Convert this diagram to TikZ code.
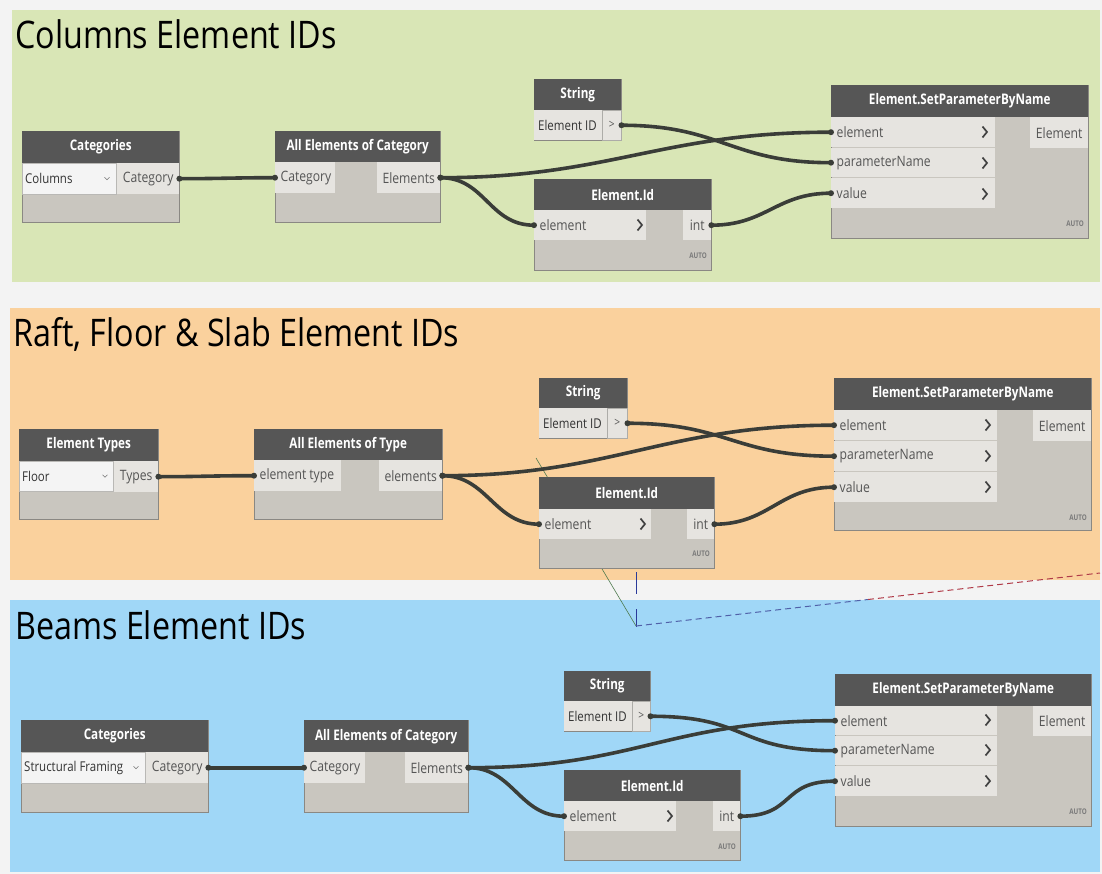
\documentclass[tikz,border=0pt]{standalone}
\usepackage{fontspec}
\newfontfamily\tfont{Open Sans}[FakeStretch=0.85]
\newfontfamily\hfont{Open Sans}[FakeStretch=0.8]
\definecolor{bggray}{HTML}{F3F3F3}
\definecolor{pgreen}{HTML}{D9E6B6}
\definecolor{porange}{HTML}{FAD19D}
\definecolor{pblue}{HTML}{A0D7F7}
\definecolor{headgray}{HTML}{565656}
\definecolor{bodygray}{HTML}{C9C6BF}
\definecolor{cellgray}{HTML}{E6E4E0}
\definecolor{ddgray}{HTML}{F4F4F4}
\definecolor{edgegray}{HTML}{8A8883}
\definecolor{wiregray}{HTML}{3A3D38}
\definecolor{txtgray}{HTML}{555555}
\definecolor{autogray}{HTML}{7A7A7A}
\definecolor{strayg}{HTML}{4E7A4E}
\definecolor{strayb}{HTML}{2A3A9A}
\definecolor{strayr}{HTML}{B03A48}
\definecolor{straypb}{HTML}{5060A8}
\tikzset{
  body/.style={draw=edgegray, line width=0.8pt, fill=bodygray, anchor=north west, inner sep=0pt},
  head/.style={fill=headgray, anchor=north west, inner sep=0pt, text=white, font=\hfont\bfseries\fontsize{14.6}{16}\selectfont},
  cell/.style={fill=cellgray, anchor=north west, inner sep=0pt, text=txtgray, font=\tfont\fontsize{14.3}{16}\selectfont},
  celltext/.style={inner sep=0pt, text=txtgray, font=\tfont\fontsize{14.3}{16}\selectfont},
  strtext/.style={inner sep=0pt, text=black!80, font=\tfont\fontsize{13.5}{16}\selectfont},
  ddst/.style={fill=ddgray, draw=edgegray!60, line width=0.5pt, anchor=north west, inner sep=0pt},
  ddtext/.style={inner sep=0pt, text=black!80, font=\tfont\fontsize{13.5}{16}\selectfont},
  gcell/.style={fill=cellgray, draw=edgegray!70, line width=0.5pt, anchor=north west, inner sep=0pt, text=txtgray, font=\tfont\fontsize{12}{14}\selectfont},
  autost/.style={inner sep=0pt, anchor=east, text=autogray, font=\hfont\bfseries\fontsize{7.8}{9}\selectfont},
  titlest/.style={inner sep=0pt, anchor=base west, text=black, font=\tfont\fontsize{38}{42}\selectfont},
  chevst/.style={draw=black!75, line width=1.7pt},
  vst/.style={draw=black!55, line width=0.6pt},
  wire/.style={draw=wiregray, line width=3.6pt},
}
\newcommand\dynnode[7]{%
  \node[body, minimum width=#4pt, minimum height=#5pt] (#1) at (#2,#3) {};
  \node[head, minimum width=#4pt, minimum height=#6pt] (#1h) at (#2,#3) {#7};
}
\newcommand\incell[6]{%
  \node[cell, minimum width=#4pt, minimum height=#5pt] (#1) at (#2,#3) {};
  \node[celltext, anchor=west] (#1t) at ([xshift=5.5pt]#1.west) {#6};
}
\newcommand\strcell[6]{%
  \node[cell, minimum width=#4pt, minimum height=#5pt] (#1) at (#2,#3) {};
  \node[strtext, anchor=west] (#1t) at ([xshift=4pt]#1.west) {#6};
}
\newcommand\outcell[6]{%
  \node[cell, minimum width=#4pt, minimum height=#5pt] (#1) at (#2,#3) {#6};
}
\newcommand\ddcell[7]{%
  \node[ddst, minimum width=#4pt, minimum height=#5pt] (#1) at (#2,#3) {};
  \node[ddtext, anchor=west] (#1t) at ([xshift=3pt]#1.west) {#6};
  \draw[vst] ([xshift=#7pt-2.5pt, yshift=1.5pt]#1.west) -- ([xshift=#7pt, yshift=-1pt]#1.west) -- ([xshift=#7pt+2.5pt, yshift=1.5pt]#1.west);
}
\newcommand\chev[2]{\draw[chevst] (#1-2.5,#2-5.5) -- (#1+2,#2) -- (#1-2.5,#2+5.5);}
\newcommand\wire[3]{%
  \draw[wire] (#1) .. controls +(#3,0) and +(-#3,0) .. (#2);
  \fill[wiregray] (#1) circle (3);
  \fill[wiregray] (#2) circle (3);
}
\begin{document}
\begin{tikzpicture}[x=1pt, y={(0pt,-1pt)}]
\useasboundingbox (0,0) rectangle (1102,874);
\fill[bggray] (0,0) rectangle (1102,874);
% panels
\fill[pgreen] (12,10) rectangle (1100,282);
\fill[porange] (10,308) rectangle (1100,580);
\fill[pblue] (10,600) rectangle (1100,872);
% titles
\node[titlest] (t1) at (15,49) {Columns Element IDs};
\node[titlest] (t2) at (13,346) {Raft, Floor \& Slab Element IDs};
\node[titlest] (t3) at (15,639) {Beams Element IDs};
% stray lines
\draw[strayg, line width=0.6pt] (536,458) -- (636,626);
\draw[strayb, line width=1pt] (636,572) -- (636,594);
\draw[strayb, line width=1pt] (636,609) -- (636,627);
\draw[straypb, line width=1pt, dash pattern=on 6pt off 4pt] (636,626) -- (868,599.5);
\draw[strayr, line width=1pt, dash pattern=on 6pt off 4pt] (868,599.5) -- (1100,573);

% ===== Group 1 =====
\dynnode{cat1}{22}{131}{157}{91}{32}{Categories}
\ddcell{cat1d}{22}{163}{94}{31}{Columns}{85}
\outcell{cat1o}{117}{163}{62}{31}{Category}
\dynnode{aec1}{275}{131}{165}{91}{31}{All Elements of Category}
\incell{aec1i}{275}{162}{60}{31}{Category}
\outcell{aec1o}{377}{162}{63}{31}{Elements}
\dynnode{str1}{534}{79}{87}{61}{31}{String}
\strcell{str1a}{534}{110}{68}{30}{Element ID}
\node[gcell, minimum width=19pt, minimum height=30pt] (str1g) at (602,110) {>};
\dynnode{eid1}{534}{179}{177}{91}{31}{Element.Id}
\incell{eid1i}{534}{210}{112}{30}{element}
\chev{640}{225}
\outcell{eid1o}{683}{210}{28}{30}{int}
\node[autost] (eid1auto) at (707,256) {AUTO};
\dynnode{sp1}{831}{85}{257}{153}{32}{Element.SetParameterByName}
\incell{sp1e}{831}{117}{164}{30}{element}
\incell{sp1p}{831}{148}{164}{29}{parameterName}
\incell{sp1v}{831}{178}{164}{30}{value}
\chev{985}{132}\chev{985}{163}\chev{985}{194}
\outcell{sp1o}{1030}{117}{58}{31}{Element}
\node[autost] (sp1auto) at (1084,224) {AUTO};
\wire{cat1o.east}{aec1i.west}{40}
\wire{aec1o.east}{sp1e.west}{170}
\wire{aec1o.east}{eid1i.west}{45}
\wire{str1g.east}{sp1p.west}{100}
\wire{eid1o.east}{sp1v.west}{55}

% ===== Group 2 =====
\dynnode{et2}{19}{429}{139}{90}{32}{Element Types}
\ddcell{et2d}{19}{461}{94}{30}{Floor}{86}
\outcell{et2o}{114}{461}{44}{31}{Types}
\dynnode{aet2}{254}{429}{188}{90}{31}{All Elements of Type}
\incell{aet2i}{254}{460}{87}{31}{element type}
\outcell{aet2o}{379}{460}{63}{31}{elements}
\dynnode{str2}{539}{378}{88}{60}{30}{String}
\strcell{str2a}{539}{408}{68}{30}{Element ID}
\node[gcell, minimum width=20pt, minimum height=30pt] (str2g) at (607,408) {>};
\dynnode{eid2}{539}{477}{175}{91}{32}{Element.Id}
\incell{eid2i}{539}{509}{112}{30}{element}
\chev{643}{524}
\outcell{eid2o}{687}{509}{27}{30}{int}
\node[autost] (eid2auto) at (710,554) {AUTO};
\dynnode{sp2}{834}{378}{257}{152}{32}{Element.SetParameterByName}
\incell{sp2e}{834}{410}{163}{30}{element}
\incell{sp2p}{834}{441}{163}{30}{parameterName}
\incell{sp2v}{834}{472}{163}{30}{value}
\chev{988}{425}\chev{988}{456}\chev{988}{487}
\outcell{sp2o}{1033}{410}{58}{31}{Element}
\node[autost] (sp2auto) at (1087,518) {AUTO};
\wire{et2o.east}{aet2i.west}{45}
\wire{aet2o.east}{sp2e.west}{170}
\wire{aet2o.east}{eid2i.west}{45}
\wire{str2g.east}{sp2p.west}{100}
\wire{eid2o.east}{sp2v.west}{55}

% ===== Group 3 =====
\dynnode{cat3}{21}{720}{187}{92}{32}{Categories}
\ddcell{cat3d}{21}{752}{124}{31}{Structural Framing}{115}
\outcell{cat3o}{146}{752}{62}{31}{Category}
\dynnode{aec3}{304}{720}{164}{92}{32}{All Elements of Category}
\incell{aec3i}{304}{752}{61}{31}{Category}
\outcell{aec3o}{405}{752}{63}{31}{Elements}
\dynnode{str3}{564}{671}{86}{60}{30}{String}
\strcell{str3a}{564}{701}{68}{30}{Element ID}
\node[gcell, minimum width=18pt, minimum height=30pt] (str3g) at (632,701) {>};
\dynnode{eid3}{564}{770}{176}{90}{31}{Element.Id}
\incell{eid3i}{564}{801}{112}{30}{element}
\chev{670}{816}
\outcell{eid3o}{713}{801}{27}{30}{int}
\node[autost] (eid3auto) at (736,847) {AUTO};
\dynnode{sp3}{835}{674}{256}{152}{32}{Element.SetParameterByName}
\incell{sp3e}{835}{706}{162}{29}{element}
\incell{sp3p}{835}{736}{162}{29}{parameterName}
\incell{sp3v}{835}{766}{162}{30}{value}
\chev{988}{720}\chev{988}{750}\chev{988}{781}
\outcell{sp3o}{1033}{706}{58}{30}{Element}
\node[autost] (sp3auto) at (1087,812) {AUTO};
\wire{cat3o.east}{aec3i.west}{45}
\wire{aec3o.east}{sp3e.west}{170}
\wire{aec3o.east}{eid3i.west}{45}
\wire{str3g.east}{sp3p.west}{100}
\wire{eid3o.east}{sp3v.west}{55}
\end{tikzpicture}
\end{document}
